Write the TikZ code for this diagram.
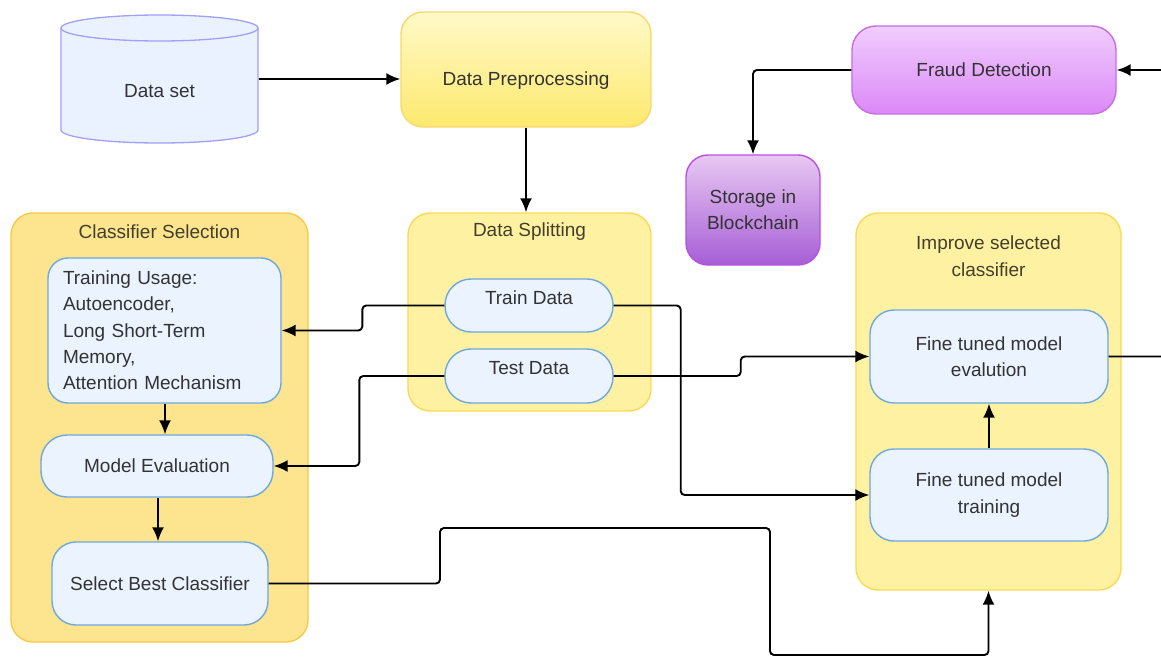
\documentclass[tikz,border=0pt]{standalone}
\usepackage{fontspec}
\setmainfont{Liberation Sans}
\usetikzlibrary{arrows.meta,calc}
\definecolor{txt}{HTML}{333333}
\definecolor{ttl}{HTML}{433F2B}
\definecolor{bluefill}{HTML}{EAF3FE}
\definecolor{blueline}{HTML}{6FA8DC}
\definecolor{cylfill}{HTML}{EAF2FF}
\definecolor{cylline}{HTML}{A0A0F8}
\definecolor{yelA}{HTML}{FFF9C8}
\definecolor{yelB}{HTML}{FDE96E}
\definecolor{yelline}{HTML}{F7D86A}
\definecolor{contfill}{HTML}{FFF1A2}
\definecolor{contline}{HTML}{F9DA55}
\definecolor{csfill}{HTML}{FDE48E}
\definecolor{csline}{HTML}{F5CB45}
\definecolor{fdA}{HTML}{F0CDFE}
\definecolor{fdB}{HTML}{DC88F7}
\definecolor{fdline}{HTML}{C46EE2}
\definecolor{stA}{HTML}{E8C8F2}
\definecolor{stB}{HTML}{A65ED6}
\definecolor{stline}{HTML}{B850E2}
\newcommand{\shifttext}[2]{\raisebox{#1}[14pt][4pt]{#2}}
\tikzset{
  base/.style={rectangle, inner sep=0pt, font=\fontsize{19}{26.3}\selectfont, text=txt, line width=1.4pt},
  bluebox/.style={base, draw=blueline, fill=bluefill, rounded corners=22pt},
  container/.style={base, rounded corners=22pt},
  titletext/.style={inner sep=0pt, font=\fontsize{19}{27}\selectfont, text=ttl, align=center},
  conn/.style={draw=black, line width=1.9pt, rounded corners=4pt},
  arr/.style={conn, -{Latex[length=14pt,width=12pt]}}
}
\begin{document}
\begin{tikzpicture}[x=1pt,y=-1pt]
\useasboundingbox (0,0) rectangle (1161,658);
\clip (0,0) rectangle (1161,658);
\fill[white] (0,0) rectangle (1161,658);

% Data set cylinder (y axis points down: angle 90 is the visual bottom)
\filldraw[fill=cylfill, draw=cylline, line width=1.3pt]
  (61,28) -- (61,130) arc[start angle=180, end angle=0, x radius=98.5, y radius=13]
  -- (258,28) arc[start angle=360, end angle=180, x radius=98.5, y radius=13] -- cycle;
\draw[draw=cylline, line width=1.3pt] (61,28) arc[start angle=180, end angle=0, x radius=98.5, y radius=13];
\node[base, minimum width=197pt, minimum height=128pt] (ds) at (159.5,79) {\shifttext{-14pt}{Data set}};

% Data Preprocessing
\node[base, draw=yelline, top color=yelA, bottom color=yelB, rounded corners=22pt,
  minimum width=250pt, minimum height=115pt] (dp) at (526,69.5) {\shifttext{-11pt}{Data Preprocessing}};

% Fraud Detection and Storage
\node[base, draw=fdline, top color=fdA, bottom color=fdB, rounded corners=24pt,
  minimum width=264pt, minimum height=88pt] (fd) at (984,70) {Fraud Detection};
\node[base, draw=stline, top color=stA, bottom color=stB, rounded corners=22pt,
  minimum width=134pt, minimum height=110pt, align=center] (st) at (753,210) {Storage in\\Blockchain};

% Containers
\node[container, draw=csline, fill=csfill, minimum width=297pt, minimum height=429pt] (cs) at (159.5,427.5) {};
\node[titletext] (cst) at (159.5,232) {Classifier Selection};
\node[container, draw=contline, fill=contfill, minimum width=243pt, minimum height=198pt] (dsp) at (529.5,312) {};
\node[titletext] (dspt) at (529.5,232) {Data Splitting};
\node[container, draw=contline, fill=contfill, minimum width=265pt, minimum height=377pt] (ic) at (988.5,401.5) {};
\node[titletext] (ict) at (988.5,256.5) {Improve selected\\classifier};

% Inner boxes
\node[bluebox, rounded corners=20pt, minimum width=233pt, minimum height=145pt,
  text width=203pt, inner xsep=15pt, align=left] (tu) at (164.5,330.5)
  {Training Usage:\\Autoencoder,\\Long Short-Term\\Memory,\\Attention Mechanism};
\node[bluebox, rounded corners=26pt, minimum width=232pt, minimum height=62pt] (me) at (157,466) {Model Evaluation};
\node[bluebox, rounded corners=24pt, minimum width=216pt, minimum height=83pt] (sb) at (160,583.5) {Select Best Classifier};
\node[bluebox, rounded corners=26pt, minimum width=168pt, minimum height=53pt] (tr) at (529,305.5) {\shifttext{6pt}{Train Data}};
\node[bluebox, rounded corners=26pt, minimum width=168pt, minimum height=54pt] (te) at (529,376) {\shifttext{7pt}{Test Data}};
\node[bluebox, rounded corners=24pt, minimum width=238pt, minimum height=93pt, align=center] (fe) at (989,356.5) {Fine tuned model\\evalution};
\node[bluebox, rounded corners=24pt, minimum width=238pt, minimum height=92pt, align=center] (ft) at (989,495) {Fine tuned model\\training};

% Connectors
\draw[arr] (ds.east) -- (ds.east -| dp.west);
\draw[arr] (dp.south) -- (dp.south |- dsp.north);
\draw[arr] (fd.west) -| (st.north);
\draw[arr] (tr.west) -- ++(-82,0) |- (tu.east);
\draw[arr] (tr.east) -- ++(67,0) |- (ft.west);
\draw[arr] (te.west) -- ++(-85,0) |- (me.east);
\draw[arr] (te.east) -- ++(127,0) |- (fe.west);
\draw[arr] (tu.south -| 165,0) -- (me.north -| 165,0);
\draw[arr] (me.south -| 158,0) -- (sb.north -| 158,0);
\draw[arr] (ft.north) -- (fe.south);
\draw[arr] (sb.east) -| (440,528) -| (770,655) -| (ic.south);
\draw[arr] (fe.east) -- ++(80,0) |- (fd.east);
\end{tikzpicture}
\end{document}
